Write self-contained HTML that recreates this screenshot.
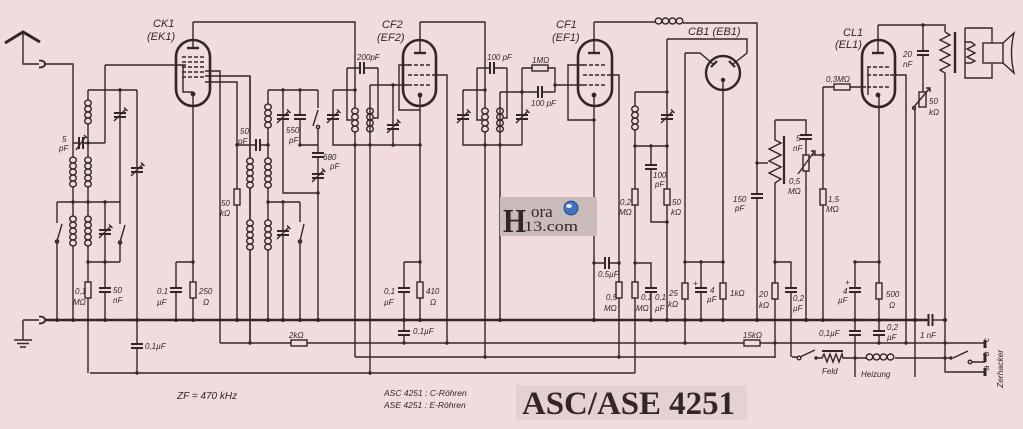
<!DOCTYPE html>
<html><head><meta charset="utf-8"><style>
html,body{margin:0;padding:0;background:#f0dcdc;}
svg{display:block}
text{font-family:"Liberation Sans",sans-serif;font-style:italic;fill:#332626}
</style></head><body>
<svg width="1023" height="429" viewBox="0 0 1023 429" xmlns="http://www.w3.org/2000/svg">
<defs>
<g id="cv"><rect x="-6" y="-2" width="12" height="4" fill="#f0dcdc" stroke="none"/><path d="M-6,-2H6M-6,2H6" stroke-width="2"/></g>
<g id="ch"><rect x="-2" y="-6" width="4" height="12" fill="#f0dcdc" stroke="none"/><path d="M-2,-6V6M2,-6V6" stroke-width="2"/></g>
<g id="vc"><use href="#cv"/><path d="M-6,6L6,-6M4,-7.5L7.5,-4"/></g>
<g id="rv"><rect x="-3" y="-8" width="6" height="16" fill="#f0dcdc"/></g>
<g id="rh"><rect x="-8" y="-3" width="16" height="6" fill="#f0dcdc"/></g>
<g id="l4" fill="#f0dcdc"><ellipse cx="0" cy="3" rx="3.3" ry="2.9"/><ellipse cx="0" cy="9" rx="3.3" ry="2.9"/><ellipse cx="0" cy="15" rx="3.3" ry="2.9"/><ellipse cx="0" cy="21" rx="3.3" ry="2.9"/></g>
<g id="l5" fill="#f0dcdc"><use href="#l4"/><ellipse cx="0" cy="27" rx="3.3" ry="2.9"/></g>
<g id="lh" fill="#f0dcdc"><ellipse cx="3.5" cy="0" rx="3.3" ry="3"/><ellipse cx="10.5" cy="0" rx="3.3" ry="3"/><ellipse cx="17.5" cy="0" rx="3.3" ry="3"/><ellipse cx="24.5" cy="0" rx="3.3" ry="3"/></g>
</defs>
<rect width="1023" height="429" fill="#f0dcdc"/>
<rect x="516" y="385" width="231" height="35" fill="#e5d1d0"/>

<g stroke="#332626" stroke-width="1.4" fill="none">
<!-- antenna / ground -->
<path d="M5,43L23,32L40,42" stroke-width="3"/>
<path d="M23,33V64H39M45,64H73V320"/>
<path d="M39,60.5Q45,60.5 45,64Q45,67.5 39,67.5" stroke-width="1.8"/>
<path d="M23,320H39M23,320V340"/>
<path d="M39,316.5Q45,316.5 45,320Q45,323.5 39,323.5" stroke-width="1.8"/>
<path d="M14,340H32M17,343.5H29M20,347H26" stroke-width="1.5"/>
<!-- bus -->
<path d="M45,320H928" stroke-width="2.6"/>
<path d="M932,320H945"/>
<path d="M928.5,314V326M932.5,314V326" stroke-width="2"/>
<!-- bottom lines -->
<path d="M220,343H292M306,343H745M759,343H985"/>
<use href="#rh" x="299" y="343"/><use href="#rh" x="752" y="343"/>
<path d="M355,357H775"/>
<path d="M90,373H635"/>

<!-- left input -->
<path d="M57,202H120"/>
<path d="M57,202V223M57,241V320M57,241L62,224"/>
<circle cx="57" cy="241.5" r="1.6"/>
<path d="M88,90V373M88,90H137"/>
<path d="M73,143H105"/><use href="#ch" x="81" y="143"/><path d="M76,150L86,136M84,135L87,138"/>
<path d="M105,65H186M105,65V143"/>
<path d="M105,202V320"/><use href="#vc" x="105" y="232"/><use href="#cv" x="105" y="290"/>
<path d="M88,262H120"/>
<path d="M120,90V202"/><use href="#vc" x="120" y="115"/>
<path d="M120,202V224M120,242V262M120,242L125,225"/><circle cx="120" cy="242.5" r="1.6"/>
<path d="M137,90V373"/><use href="#vc" x="137" y="170"/><use href="#cv" x="137" y="346"/>
<use href="#l4" x="88" y="100"/><use href="#l5" x="88" y="157"/><use href="#l5" x="88" y="216"/>
<use href="#l5" x="73" y="157"/><use href="#l5" x="73" y="216"/>
<use href="#rv" x="88" y="290"/>

<!-- CK1 -->
<path d="M193,22H355V357"/>
<path d="M193,22V48"/><path d="M187,48H199" stroke-width="2.4"/>
<path d="M182,57H205M182,62H205M182,67H205M182,72H205M182,77H205" stroke-dasharray="4,2"/>
<path d="M183,65V92H193"/>
<path d="M193,94V320"/>
<path d="M205,71H220V343M205,76H250V343M205,82H237V320"/>
<path d="M176,262H193M176,262V320"/><use href="#cv" x="176" y="290"/><use href="#rv" x="193" y="290"/>
<rect x="176" y="40" width="34" height="66" rx="17" stroke-width="2.6"/>

<!-- oscillator -->
<path d="M237,145H268"/><use href="#ch" x="258" y="145"/>
<use href="#rv" x="237" y="197"/>
<path d="M268,90V320"/>
<path d="M250,76V343"/>
<use href="#l4" x="268" y="104"/><use href="#l5" x="268" y="158"/><use href="#l5" x="268" y="220"/>
<use href="#l5" x="250" y="158"/><use href="#l5" x="250" y="220"/>
<path d="M268,90H318"/>
<path d="M283,90V193H318"/><use href="#vc" x="283" y="117"/>
<path d="M300,90V145H318"/><use href="#cv" x="300" y="117"/>
<path d="M318,90V108M313,126L318,110M318,128V320"/><circle cx="318" cy="127" r="1.6"/>
<use href="#cv" x="318" y="155"/><use href="#vc" x="318" y="176"/>
<path d="M268,202H300"/>
<path d="M283,202V320"/><use href="#vc" x="283" y="233"/>
<path d="M300,202V222M300,241V320M300,241L304,224"/><circle cx="300" cy="241.5" r="1.6"/>

<!-- CF2 input -->
<path d="M333,90H355M333,90V145H420"/><use href="#vc" x="333" y="117"/>
<path d="M347,68H378"/><use href="#ch" x="362" y="68"/>
<path d="M347,68V120H352M378,68V118H373"/>
<use href="#l4" x="355" y="108"/><use href="#l4" x="370" y="108"/>
<path d="M370,85V373M370,85H408"/>
<path d="M393,85V145"/><use href="#vc" x="393" y="127"/>
<!-- CF2 tube -->
<path d="M420,22V53"/><path d="M414,53H426" stroke-width="2.4"/>
<path d="M408,65H432M408,75H432M408,85H432" stroke-dasharray="4,2"/>
<path d="M410,65H399V110H420"/>
<path d="M420,95V320"/>
<path d="M432,75H447V343"/>
<path d="M420,22H485V357"/>
<path d="M404,262H420M404,262V343"/><use href="#cv" x="404" y="290"/><use href="#cv" x="404" y="333"/><use href="#rv" x="420" y="290"/>
<rect x="403" y="40" width="33" height="66" rx="16.5" stroke-width="2.6"/>

<!-- CF1 input -->
<path d="M463,90H485M463,90V145H522"/><use href="#vc" x="463" y="117"/>
<path d="M477,68H507"/><use href="#ch" x="492" y="68"/>
<path d="M477,68V120H482M507,68V118H503"/>
<use href="#l4" x="485" y="108"/><use href="#l4" x="500" y="108"/>
<path d="M500,92V320M500,92H555"/><use href="#ch" x="540" y="92"/>
<path d="M522,68V145"/><use href="#vc" x="522" y="117"/>
<path d="M522,68H555V92"/><use href="#rh" x="540" y="68"/>
<path d="M555,85H583"/>
<!-- CF1 tube -->
<path d="M594,22V53"/><path d="M588,53H600" stroke-width="2.4"/>
<path d="M583,65H607M583,75H607M583,85H607" stroke-dasharray="4,2"/>
<path d="M584,65H568V120H594"/>
<path d="M594,95V320"/>
<path d="M607,75H619V357"/>
<path d="M594,22H655M683,23H757V320"/>
<use href="#lh" x="655" y="21"/>
<path d="M594,263H619"/><use href="#ch" x="607" y="263"/>
<use href="#rv" x="619" y="290"/>
<rect x="578" y="40" width="34" height="66" rx="17" stroke-width="2.6"/>

<!-- detector -->
<path d="M635,92H667M635,92V373M635,146H667"/><use href="#l4" x="635" y="106"/>
<path d="M667,39V320"/><use href="#vc" x="667" y="117"/><use href="#rv" x="667" y="197"/>
<path d="M651,146V222H667"/><use href="#cv" x="651" y="167"/>
<use href="#rv" x="635" y="197"/><use href="#rv" x="635" y="290"/>
<path d="M635,263H651V320"/><use href="#cv" x="651" y="290"/>
<path d="M667,39H747V53L733,64"/>
<path d="M685,53V343M685,53H700L713,64"/>
<circle cx="723" cy="73" r="17" stroke-width="2.4"/>
<path d="M711,67L717,61M729,61L735,67" stroke-width="2.2"/>
<path d="M723,80V320"/>
<path d="M685,262H723"/>
<path d="M701,262V320"/><use href="#cv" x="701" y="290"/>
<use href="#rv" x="723" y="291"/><use href="#rv" x="685" y="291"/>

<!-- volume -->
<path d="M757,163H768"/>
<use href="#cv" x="757" y="196"/>
<path d="M775,120V140L781,143L769,149L781,155L769,161L781,167L769,173L781,179L775,183V358"/>
<path d="M784,136V184" stroke-width="2.2"/>
<path d="M775,120H806V320"/><use href="#cv" x="806" y="137"/>
<use href="#rv" x="806" y="163"/><path d="M798,174L814,152M811,151L815,151L815,155"/>
<path d="M812,155H823"/>
<path d="M823,87V320"/><use href="#rv" x="823" y="197"/>
<path d="M823,87H866"/><use href="#rh" x="842" y="87"/>
<path d="M775,262H791V357"/><use href="#cv" x="791" y="290"/>
<use href="#rv" x="775" y="291"/>

<!-- CL1 -->
<path d="M878,25V53"/><path d="M872,53H884" stroke-width="2.4"/>
<path d="M867,67H890M867,75H890M867,87H890" stroke-dasharray="4,2"/>
<path d="M868,67V95"/>
<path d="M879,95V343"/><use href="#rv" x="879" y="291"/><use href="#cv" x="879" y="333"/>
<path d="M855,262H879M855,262V377"/><use href="#cv" x="855" y="290"/><use href="#cv" x="855" y="333"/>
<path d="M890,75H906V343"/>
<path d="M878,25H945V32"/>
<path d="M923,25V92"/><use href="#cv" x="923" y="53"/>
<rect x="919" y="92" width="7" height="15" fill="#f0dcdc"/>
<path d="M913,108L929,89M926,88L930,88L930,92"/>
<path d="M915,108V377"/><circle cx="914" cy="108" r="1.5"/>
<rect x="862" y="40" width="33" height="67" rx="16.5" stroke-width="2.6"/>
<!-- transformer / speaker -->
<path d="M945,32L950,35L940,40L950,45L940,50L950,55L940,60L950,65L940,70L945,73V372H985"/>
<path d="M955,32V73" stroke-width="2.4"/>
<path d="M965,28H992V43M965,28V78H992V63"/>
<path d="M965,42H971L975,45L967,49L975,53L967,57L975,61L971,63H965"/>
<rect x="983" y="43" width="20" height="20"/>
<path d="M1003,43L1014,33Q1009,53 1014,73L1003,63"/>

<!-- bottom right -->
<path d="M792,357H797M800,357L815,350M816,358H822L824,354L827,362L830,354L833,362L836,354L839,362L842,354L843,358H866M895,358H951M953,358L968,351M971,362H985"/>
<circle cx="799" cy="358" r="1.8"/><circle cx="970" cy="362" r="1.8"/>
<path d="M822,351H843" stroke-width="2"/>
<use href="#lh" x="866" y="357"/>
<path d="M985,340V348M985,353V362M985,368V376" stroke-width="3"/>
</g>

<!-- dots -->
<g fill="#332626">
<circle cx="57" cy="320" r="2"/><circle cx="73" cy="320" r="2"/><circle cx="105" cy="320" r="2"/><circle cx="137" cy="320" r="2"/><circle cx="176" cy="320" r="2"/><circle cx="193" cy="320" r="2"/><circle cx="237" cy="320" r="2"/><circle cx="268" cy="320" r="2"/><circle cx="283" cy="320" r="2"/><circle cx="300" cy="320" r="2"/><circle cx="318" cy="320" r="2"/><circle cx="404" cy="320" r="2"/><circle cx="420" cy="320" r="2"/><circle cx="500" cy="320" r="2"/><circle cx="594" cy="320" r="2"/><circle cx="651" cy="320" r="2"/><circle cx="667" cy="320" r="2"/><circle cx="685" cy="320" r="2"/><circle cx="701" cy="320" r="2"/><circle cx="723" cy="320" r="2"/><circle cx="757" cy="320" r="2"/><circle cx="806" cy="320" r="2"/><circle cx="823" cy="320" r="2"/><circle cx="855" cy="320" r="2"/><circle cx="879" cy="320" r="2"/><circle cx="915" cy="320" r="2"/><circle cx="945" cy="320" r="2"/>
<circle cx="88" cy="143" r="1.7"/><circle cx="73" cy="202" r="1.7"/><circle cx="88" cy="202" r="1.7"/><circle cx="105" cy="202" r="1.7"/><circle cx="120" cy="90" r="1.7"/><circle cx="88" cy="262" r="1.7"/><circle cx="105" cy="262" r="1.7"/><circle cx="137" cy="373" r="1.7"/><circle cx="193" cy="262" r="1.7"/><circle cx="193" cy="94" r="2.4"/>
<circle cx="237" cy="145" r="1.7"/><circle cx="268" cy="145" r="1.7"/><circle cx="268" cy="202" r="1.7"/><circle cx="283" cy="202" r="1.7"/><circle cx="283" cy="90" r="1.7"/><circle cx="300" cy="90" r="1.7"/><circle cx="300" cy="145" r="1.7"/><circle cx="318" cy="193" r="1.7"/><circle cx="250" cy="343" r="1.7"/>
<circle cx="355" cy="90" r="1.7"/><circle cx="355" cy="145" r="1.7"/><circle cx="370" cy="145" r="1.7"/><circle cx="393" cy="145" r="1.7"/><circle cx="393" cy="85" r="1.7"/><circle cx="420" cy="145" r="1.7"/><circle cx="420" cy="262" r="1.7"/><circle cx="404" cy="343" r="1.7"/><circle cx="447" cy="343" r="1.7"/><circle cx="420" cy="95" r="2.4"/><circle cx="370" cy="373" r="1.7"/>
<circle cx="485" cy="90" r="1.7"/><circle cx="485" cy="145" r="1.7"/><circle cx="500" cy="145" r="1.7"/><circle cx="522" cy="92" r="1.7"/><circle cx="555" cy="85" r="1.7"/><circle cx="485" cy="357" r="1.7"/><circle cx="594" cy="95" r="2.4"/><circle cx="594" cy="120" r="1.7"/><circle cx="594" cy="263" r="1.7"/><circle cx="619" cy="263" r="1.7"/><circle cx="619" cy="357" r="1.7"/>
<circle cx="651" cy="146" r="1.7"/><circle cx="667" cy="92" r="1.7"/><circle cx="667" cy="146" r="1.7"/><circle cx="667" cy="222" r="1.7"/><circle cx="635" cy="146" r="1.7"/><circle cx="635" cy="263" r="1.7"/><circle cx="685" cy="262" r="1.7"/><circle cx="701" cy="262" r="1.7"/><circle cx="723" cy="262" r="1.7"/><circle cx="685" cy="343" r="1.7"/><circle cx="723" cy="80" r="2.2"/>
<circle cx="757" cy="163" r="1.7"/><circle cx="775" cy="262" r="1.7"/><circle cx="775" cy="343" r="1.7"/><circle cx="823" cy="155" r="1.7"/><circle cx="855" cy="262" r="1.7"/><circle cx="855" cy="358" r="1.7"/><circle cx="879" cy="262" r="1.7"/><circle cx="879" cy="343" r="1.7"/><circle cx="906" cy="343" r="1.7"/><circle cx="945" cy="343" r="1.7"/><circle cx="945" cy="358" r="1.7"/><circle cx="923" cy="25" r="1.7"/><circle cx="878" cy="95" r="2.4"/><circle cx="816" cy="358" r="1.7"/><circle cx="951" cy="358" r="1.7"/>
</g>

<!-- tube labels -->
<g font-size="11">
<text x="153" y="27">CK1</text><text x="147" y="40">(EK1)</text>
<text x="382" y="28">CF2</text><text x="377" y="41">(EF2)</text>
<text x="556" y="28">CF1</text><text x="552" y="41">(EF1)</text>
<text x="688" y="35">CB1 (EB1)</text>
<text x="843" y="36">CL1</text><text x="835" y="48">(EL1)</text>
</g>
<!-- component labels -->
<g font-size="8">
<text x="62" y="142">5</text><text x="59" y="151">pF</text>
<text x="240" y="134">50</text><text x="238" y="144">pF</text>
<text x="286" y="133">550</text><text x="289" y="143">pF</text>
<text x="323" y="160">680</text><text x="330" y="169">pF</text>
<text x="221" y="206">50</text><text x="220" y="216">kΩ</text>
<text x="75" y="294">0,1</text><text x="73" y="305">MΩ</text>
<text x="113" y="293">50</text><text x="113" y="303">nF</text>
<text x="157" y="294">0,1</text><text x="157" y="305">µF</text>
<text x="199" y="294">250</text><text x="203" y="305">Ω</text>
<text x="145" y="349">0,1µF</text>
<text x="289" y="338">2kΩ</text>
<text x="357" y="60">200pF</text>
<text x="487" y="60">100 pF</text>
<text x="532" y="63">1MΩ</text>
<text x="531" y="106">100 pF</text>
<text x="384" y="294">0,1</text><text x="384" y="305">µF</text>
<text x="426" y="294">410</text><text x="430" y="305">Ω</text>
<text x="413" y="334">0,1µF</text>
<text x="598" y="277">0,5µF</text>
<text x="606" y="300">0,5</text><text x="604" y="311">MΩ</text>
<text x="641" y="300">0,1</text><text x="636" y="311">MΩ</text>
<text x="655" y="300">0,1</text><text x="655" y="311">µF</text>
<text x="653" y="178">100</text><text x="655" y="187">pF</text>
<text x="620" y="205">0,2</text><text x="619" y="215">MΩ</text>
<text x="672" y="205">50</text><text x="671" y="215">kΩ</text>
<text x="669" y="296">25</text><text x="668" y="307">kΩ</text>
<text x="693" y="286">+</text>
<text x="710" y="293">4</text><text x="707" y="302">µF</text>
<text x="730" y="296">1kΩ</text>
<text x="733" y="202">150</text><text x="735" y="211">pF</text>
<text x="796" y="141">5</text><text x="793" y="151">nF</text>
<text x="789" y="184">0,5</text><text x="788" y="194">MΩ</text>
<text x="826" y="82">0,3MΩ</text>
<text x="828" y="202">1,5</text><text x="826" y="212">MΩ</text>
<text x="903" y="57">20</text><text x="903" y="67">nF</text>
<text x="929" y="104">50</text><text x="929" y="115">kΩ</text>
<text x="759" y="297">20</text><text x="759" y="308">kΩ</text>
<text x="793" y="301">0,2</text><text x="793" y="311">µF</text>
<text x="845" y="285">+</text>
<text x="843" y="294">4</text><text x="838" y="303">µF</text>
<text x="886" y="297">500</text><text x="889" y="308">Ω</text>
<text x="819" y="336">0,1µF</text>
<text x="887" y="330">0,2</text><text x="887" y="340">µF</text>
<text x="920" y="338">1 nF</text>
<text x="743" y="338">15kΩ</text>
<text x="822" y="374">Feld</text>
<text x="861" y="377">Heizung</text>
<text transform="translate(989,342) rotate(-90)">c</text>
<text transform="translate(989,356) rotate(-90)">b</text>
<text transform="translate(989,370) rotate(-90)">a</text>
<text transform="translate(1003,388) rotate(-90)" font-size="8.5">Zerhacker</text>
<text x="384" y="396" font-size="8.5">ASC 4251 :  C-Röhren</text>
<text x="384" y="408" font-size="8.5">ASE 4251 :  E-Röhren</text>
</g>
<text x="177" y="399" font-size="10">ZF = 470 kHz</text>

<!-- logo -->
<rect x="500" y="197" width="97" height="39" fill="#c9bcb8"/>
<text x="503" y="232" font-size="34" textLength="23" lengthAdjust="spacingAndGlyphs" fill="#1d2a22" style="font-family:'Liberation Serif',serif;font-style:normal;font-weight:bold">H</text>
<text x="531" y="217" font-size="17" style="font-family:'Liberation Serif',serif;font-style:normal" fill="#222">ora</text>
<circle cx="571" cy="208" r="7" fill="#3d72c4" stroke="#1c3c7a" stroke-width="0.8"/>
<ellipse cx="569" cy="206" rx="3" ry="2" fill="#e8eef8"/>
<text x="524" y="231" font-size="15" textLength="54" lengthAdjust="spacingAndGlyphs" style="font-family:'Liberation Serif',serif;font-style:normal" fill="#222">13.com</text>

<!-- title -->
<text x="522" y="414" font-size="33" textLength="213" lengthAdjust="spacingAndGlyphs" style="font-family:'Liberation Serif',serif;font-style:normal;font-weight:bold" fill="#2a1f1f">ASC/ASE 4251</text>
</svg>
</body></html>
